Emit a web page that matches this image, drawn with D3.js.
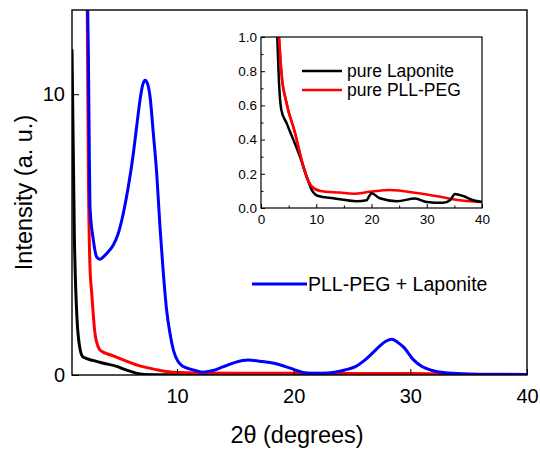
<!DOCTYPE html>
<html>
<head>
<meta charset="utf-8">
<script src="https://cdn.jsdelivr.net/npm/d3@7"></script>
<style>
  body { margin: 0; background: #fff; }
  svg { display: block; font-family: "Liberation Sans", Arial, sans-serif; }
</style>
</head>
<body>
<svg id="chart" width="540" height="452"></svg>
<script>
// main plot: 2theta vs intensity
const lapX = [1, 1.2, 1.43, 1.7, 1.95, 2.8, 3.7, 4.9, 5.5, 6.1, 6.7, 7.2, 9, 20, 40];
const lapY = [11.6, 5.0, 2.0, 0.9, 0.64, 0.52, 0.42, 0.3, 0.2, 0.12, 0.05, 0.02, 0.01, 0.01, 0.01];

const pegX = [2.3, 2.4, 2.54, 2.69, 2.97, 3.2, 3.4, 4.54, 5.5, 6.6, 8.1, 9.6, 12, 20, 30, 35, 40];
const pegY = [13.5, 7.4, 3.86, 2.92, 1.48, 1.05, 0.89, 0.68, 0.52, 0.35, 0.2, 0.1, 0.07, 0.06, 0.05, 0.03, 0.02];

const mixX = [2.33, 2.4, 2.47, 2.54, 2.83, 3.11, 3.4, 3.69, 4.11, 4.54, 4.97, 5.4, 5.83, 6.26, 6.54, 6.83, 7.06, 7.26, 7.46,
  7.69, 7.97, 8.26, 8.54, 8.83, 9.11, 9.4, 9.69, 10.11, 10.54, 11.4, 12.2, 13.0, 14.0, 15, 16.1, 17.3, 18.5, 19.3, 20,
  20.7, 21.4, 22.5, 23.5, 24.4, 25.3, 26.1, 26.8, 27.3, 27.9, 28.4, 28.9, 29.4, 30.3, 31, 31.8, 33, 34.8, 37, 40];
const mixY = [13.5, 11.5, 8.5, 5.99, 4.81, 4.21, 4.12, 4.21, 4.39, 4.63, 5.05, 5.76, 6.71, 7.9, 8.84, 9.79, 10.33, 10.5, 10.39,
  9.91, 8.61, 7.18, 5.28, 3.62, 2.31, 1.48, 0.89, 0.47, 0.3, 0.18, 0.1, 0.15, 0.3, 0.45, 0.53, 0.48, 0.4, 0.3, 0.2,
  0.1, 0.06, 0.06, 0.1, 0.18, 0.3, 0.53, 0.8, 1.0, 1.2, 1.27, 1.17, 1.0, 0.53, 0.3, 0.17, 0.08, 0.04, 0.02, 0.02];

// inset: zoom on low intensities
const inLapX = [2.95, 3.3, 3.7, 4.65, 5.85, 7.05, 8.3, 9.2, 10.4, 13.1, 17.3, 19.1, 19.6, 20.0, 21.5, 24.6, 27.9, 30.0, 33.0, 34.2, 35.1, 36.6, 38.4, 40];
const inLapY = [1.0, 0.71, 0.57, 0.495, 0.40, 0.30, 0.18, 0.105, 0.07, 0.057, 0.04, 0.045, 0.07, 0.086, 0.057, 0.04, 0.055, 0.035, 0.03, 0.045, 0.082, 0.07, 0.045, 0.035];

const inPegX = [3.26, 3.7, 4.65, 6.15, 7.35, 8.3, 9.2, 10.7, 14.3, 16.7, 19.7, 23.3, 28.2, 32.4, 36.0, 40];
const inPegY = [1.0, 0.79, 0.61, 0.44, 0.28, 0.18, 0.125, 0.10, 0.09, 0.083, 0.095, 0.105, 0.088, 0.066, 0.045, 0.035];

const mainXTicks = [10, 20, 30, 40];
const mainYTicks = [0, 10];
const inXTicks = [0, 10, 20, 30, 40];
const inYTicks = [0, 0.2, 0.4, 0.6, 0.8, 1.0];

const svg = d3.select("#chart");

// main axes
const x = d3.scaleLinear().domain([1, 40]).range([72, 527]);
const y = d3.scaleLinear().domain([0, 13]).range([375, 10]);

svg.append("clipPath").attr("id", "clipMain")
  .append("rect").attr("x", 72).attr("y", 10).attr("width", 455).attr("height", 365);

const line = (xs, ys, sx, sy) => d3.line()
  .x(i => sx(xs[i])).y(i => sy(ys[i]))
  .curve(d3.curveMonotoneX)(d3.range(xs.length));

const plot = svg.append("g").attr("clip-path", "url(#clipMain)");
plot.append("path").attr("d", line(lapX, lapY, x, y)).attr("fill", "none").attr("stroke", "#000").attr("stroke-width", 3);
plot.append("path").attr("d", line(pegX, pegY, x, y)).attr("fill", "none").attr("stroke", "#ff0000").attr("stroke-width", 3);
plot.append("path").attr("d", line(mixX, mixY, x, y)).attr("fill", "none").attr("stroke", "#0000ff").attr("stroke-width", 3);

// x axis (ticks inside)
svg.append("g")
  .attr("transform", "translate(0,375)")
  .style("font-size", "20px")
  .call(d3.axisBottom(x).tickValues(mainXTicks).tickSize(-6).tickPadding(13.5))
  .call(g => g.select(".domain").remove())
  .call(g => g.selectAll("text").attr("fill", "#000").style("font-family", "Liberation Sans, Arial"));

// y axis (ticks inside)
svg.append("g")
  .attr("transform", "translate(72,0)")
  .style("font-size", "20px")
  .call(d3.axisLeft(y).tickValues(mainYTicks).tickSize(-7).tickPadding(7))
  .call(g => g.select(".domain").remove())
  .call(g => g.selectAll("text").attr("fill", "#000").style("font-family", "Liberation Sans, Arial"));

svg.append("rect").attr("x", 72).attr("y", 10).attr("width", 455).attr("height", 365)
  .attr("fill", "none").attr("stroke", "#000").attr("stroke-width", 1.4);

svg.append("text").attr("x", 297).attr("y", 443).attr("text-anchor", "middle")
  .style("font-size", "23.5px").text("2θ (degrees)");

svg.append("text").attr("transform", "translate(32,192.5) rotate(-90)").attr("text-anchor", "middle")
  .style("font-size", "23.5px").text("Intensity (a. u.)");

// main legend
svg.append("line").attr("x1", 252).attr("x2", 307).attr("y1", 284).attr("y2", 284)
  .attr("stroke", "#0000ff").attr("stroke-width", 3);
svg.append("text").attr("x", 308).attr("y", 291).style("font-size", "19.5px").text("PLL-PEG + Laponite");

// inset
const ix = d3.scaleLinear().domain([0, 40]).range([261, 482]);
const iy = d3.scaleLinear().domain([0, 1]).range([208, 37]);

svg.append("rect").attr("x", 261).attr("y", 37).attr("width", 221).attr("height", 171).attr("fill", "#fff");

svg.append("clipPath").attr("id", "clipInset")
  .append("rect").attr("x", 261).attr("y", 37).attr("width", 221).attr("height", 171);

const inset = svg.append("g").attr("clip-path", "url(#clipInset)");
inset.append("path").attr("d", line(inPegX, inPegY, ix, iy)).attr("fill", "none").attr("stroke", "#ff0000").attr("stroke-width", 2.5);
inset.append("path").attr("d", line(inLapX, inLapY, ix, iy)).attr("fill", "none").attr("stroke", "#000").attr("stroke-width", 2.5);
inset.append("path").attr("d", line(inPegX.slice(0, 8), inPegY.slice(0, 8), ix, iy)).attr("fill", "none").attr("stroke", "#ff0000").attr("stroke-width", 2.5);

svg.append("g")
  .attr("transform", "translate(0,208)")
  .call(d3.axisBottom(ix).tickValues(d3.range(5, 40, 10)).tickSize(-2.5).tickFormat(""))
  .call(g => g.select(".domain").remove());
svg.append("g")
  .attr("transform", "translate(0,208)")
  .style("font-size", "13.5px")
  .call(d3.axisBottom(ix).tickValues(inXTicks).tickSize(-4).tickPadding(6))
  .call(g => g.select(".domain").remove())
  .call(g => g.selectAll("text").attr("fill", "#000").style("font-family", "Liberation Sans, Arial"));

svg.append("g")
  .attr("transform", "translate(261,0)")
  .call(d3.axisLeft(iy).tickValues(d3.range(0.1, 1, 0.2)).tickSize(-2.5).tickFormat(""))
  .call(g => g.select(".domain").remove());
svg.append("g")
  .attr("transform", "translate(261,0)")
  .style("font-size", "13.5px")
  .call(d3.axisLeft(iy).tickValues(inYTicks).tickSize(-4).tickPadding(4).tickFormat(d3.format(".1f")))
  .call(g => g.select(".domain").remove())
  .call(g => g.selectAll("text").attr("fill", "#000").style("font-family", "Liberation Sans, Arial"));

svg.append("rect").attr("x", 261).attr("y", 37).attr("width", 221).attr("height", 171)
  .attr("fill", "none").attr("stroke", "#000").attr("stroke-width", 1.2);

// inset legend
svg.append("line").attr("x1", 302).attr("x2", 342).attr("y1", 71).attr("y2", 71).attr("stroke", "#000").attr("stroke-width", 2.5);
svg.append("text").attr("x", 347).attr("y", 77).style("font-size", "17.5px").text("pure Laponite");
svg.append("line").attr("x1", 302).attr("x2", 342).attr("y1", 90).attr("y2", 90).attr("stroke", "#ff0000").attr("stroke-width", 2.5);
svg.append("text").attr("x", 347).attr("y", 96).style("font-size", "17.5px").text("pure PLL-PEG");
</script>
</body>
</html>
